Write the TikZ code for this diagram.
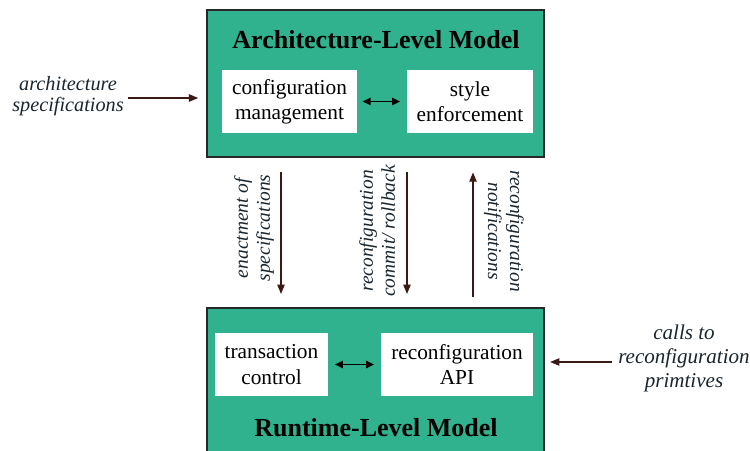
\documentclass[tikz,border=0pt]{standalone}
\usepackage{fontspec}
\setmainfont{Liberation Serif}
\usetikzlibrary{arrows.meta}
\definecolor{boxgreen}{RGB}{48,178,142}
\definecolor{boxline}{RGB}{40,40,40}
\definecolor{arrc}{RGB}{60,25,20}
\definecolor{lbl}{RGB}{25,38,48}
\tikzset{
  bigbox/.style={draw=boxline, line width=1.1pt, fill=boxgreen, minimum width=252.75pt, inner sep=0pt},
  inbox/.style={fill=white, inner sep=0pt, minimum height=47.25pt, align=center, font=\fontsize{16}{19}\selectfont},
  titletext/.style={font=\fontsize{19.5}{22}\selectfont\bfseries, text=black},
  lbltext/.style={align=center, text=lbl, inner sep=0pt},
  arr/.style={draw=arrc, line width=1pt, -{Triangle[length=7pt,width=5.5pt]}},
  darr/.style={draw=black, line width=1pt, {Triangle[length=6pt,width=5.5pt]}-{Triangle[length=6pt,width=5.5pt]}}
}
\begin{document}
\begin{tikzpicture}[x=0.75pt, y=-0.75pt]
\useasboundingbox (0,0) rectangle (750,450);
\fill[white] (0,0) rectangle (750,450);
\clip (0,0) rectangle (750,450);
% top box
\node[bigbox, minimum height=110.25pt] (arch) at (375.5,83.5) {};
\node[titletext] (archtitle) at (376,40) {Architecture-Level Model};
\node[inbox, minimum width=101.25pt] (cm) at (289.5,101.5) {configuration\\management};
\node[inbox, minimum width=94.5pt] (se) at (470,101.5) {style\\enforcement};
\draw[darr, shorten <=4pt, shorten >=5pt] (cm.east) -- (se.west);
% bottom box
\node[bigbox, minimum height=121.5pt] (rt) at (375.5,389) {};
\node[titletext] (rttitle) at (376,428) {Runtime-Level Model};
\node[inbox, minimum width=84.75pt] (tc) at (271.5,364.5) {transaction\\control};
\node[inbox, minimum width=114pt] (api) at (457,364.5) {reconfiguration\\API};
\draw[darr, shorten <=5pt, shorten >=5pt] (tc.east) -- (api.west);
% vertical arrows
\coordinate (a1) at (281,0);
\coordinate (a2) at (407,0);
\coordinate (a3) at (473,0);
\draw[arr, shorten <=11pt, shorten >=10pt] (arch.south -| a1) -- (rt.north -| a1);
\draw[arr, shorten <=11pt, shorten >=10pt] (arch.south -| a2) -- (rt.north -| a2);
\draw[arr, shorten <=8pt, shorten >=11pt] (rt.north -| a3) -- (arch.south -| a3);
\node[lbltext, rotate=90, font=\fontsize{14.6}{16.5}\selectfont\itshape] (l1) at (254,228) {enactment of\\specifications};
\node[lbltext, rotate=90, font=\fontsize{14.6}{16.5}\selectfont\itshape] (l2) at (377,231) {reconfiguration\\commit/ rollback};
\node[lbltext, rotate=-90, font=\fontsize{14.6}{16.5}\selectfont\itshape] (l3) at (504,231) {reconfiguration\\notifications};
% side labels
\node[lbltext, font=\fontsize{15.2}{16}\selectfont\itshape] (archspec) at (68,96) {architecture\\specifications};
\coordinate (la) at (128,98);
\draw[arr, shorten >=6pt] (la) -- (la -| arch.west);
\node[lbltext, font=\fontsize{15.8}{18}\selectfont\itshape] (calls) at (684,358) {calls to\\reconfiguration\\primtives};
\coordinate (ra) at (612,362);
\draw[arr, shorten >=4pt] (ra) -- (ra -| rt.east);
\end{tikzpicture}
\end{document}
